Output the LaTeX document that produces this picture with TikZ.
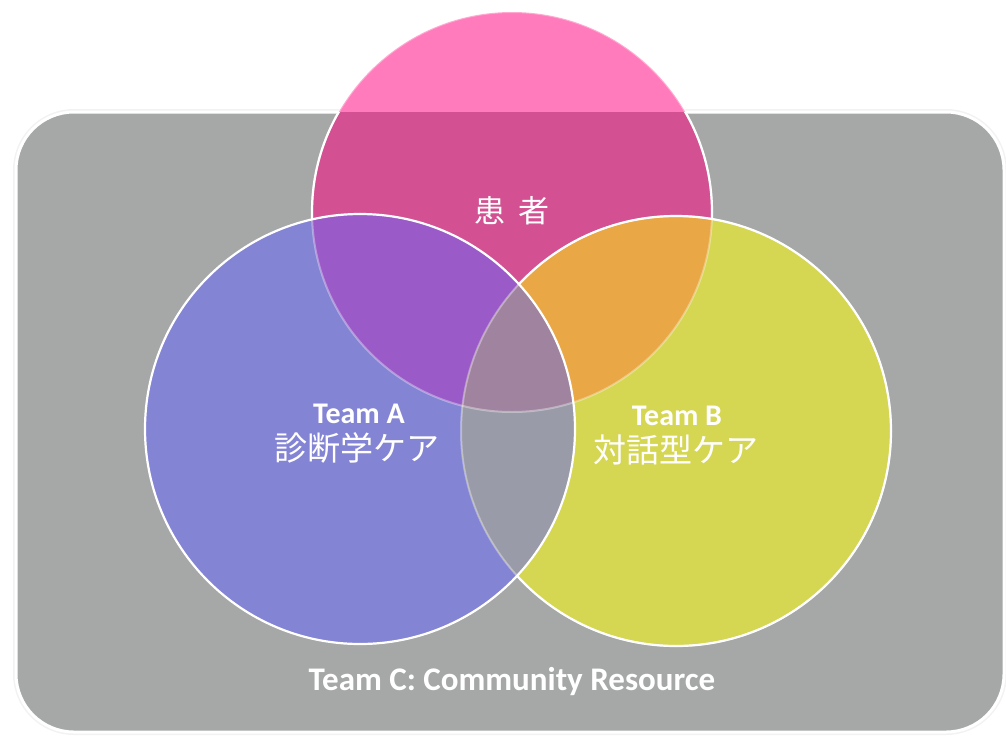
\documentclass[tikz,border=0pt]{standalone}
\usepackage{fontspec}
\setmainfont{Carlito}
\newfontfamily\jpfont{Noto Sans CJK JP}
\definecolor{panel}{HTML}{A5A8A7}
\definecolor{pinkout}{HTML}{FF7BBB}
\definecolor{pinkin}{HTML}{D35192}
\definecolor{bluec}{HTML}{8484D5}
\definecolor{yellowc}{HTML}{D5D652}
\definecolor{purplec}{HTML}{9A5BC8}
\definecolor{orangec}{HTML}{E9A845}
\definecolor{lensc}{HTML}{9A9BA8}
\definecolor{centerc}{HTML}{A0849F}
\tikzset{
  label/.style={text=white, align=center, inner sep=0pt},
  rim/.style={draw=white, line width=2.2pt},
  faintrim/.style={draw=white, draw opacity=0.35, line width=2pt},
}
\newcommand{\pinkpath}{(512,212) circle[radius=200pt]}
\newcommand{\bluepath}{(360,429) circle[radius=215pt]}
\newcommand{\yellowpath}{(676,431) circle[radius=215pt]}
\newcommand{\panelpath}{(16,112) rectangle (1004,732)}
\begin{document}
\begin{tikzpicture}[x=1pt,y=-1pt]
\useasboundingbox (0,0) rectangle (1006,737);
% panel with soft shadow and white border
\draw[black!5, line width=6pt, rounded corners=58pt] \panelpath;
\fill[panel, draw=white, line width=3pt, rounded corners=58pt] \panelpath;
% single-circle regions
\fill[pinkout] \pinkpath;
\begin{scope}
  \clip[rounded corners=58pt] \panelpath;
  \fill[pinkin] \pinkpath;
\end{scope}
\fill[bluec] \bluepath;
\fill[yellowc] \yellowpath;
% overlaps
\begin{scope}\clip \pinkpath; \fill[purplec] \bluepath; \end{scope}
\begin{scope}\clip \pinkpath; \fill[orangec] \yellowpath; \end{scope}
\begin{scope}\clip \bluepath; \fill[lensc] \yellowpath; \end{scope}
\begin{scope}\clip \pinkpath; \clip \bluepath; \fill[centerc] \yellowpath; \end{scope}
% outlines: faint where covered by a later circle
\path[faintrim] \pinkpath;
\path[faintrim] \yellowpath;
\begin{scope}[even odd rule]
  \clip (0,0) rectangle (1006,737) \bluepath;
  \clip (0,0) rectangle (1006,737) \yellowpath;
  \clip[rounded corners=58pt] \panelpath;
  \path[rim] \pinkpath;
\end{scope}
\begin{scope}[even odd rule]
  \clip (0,0) rectangle (1006,737) \bluepath;
  \path[rim] \yellowpath;
\end{scope}
\path[rim] \bluepath;
% labels
\node[label, font=\jpfont\fontsize{31}{34}\selectfont] (patient) at (512,211) {患\hspace{0.42em}者};
\node[label, font=\bfseries\fontsize{30}{32}\selectfont, anchor=base] (teamA) at (359,423) {Team A};
\node[label, font=\jpfont\fontsize{33}{36}\selectfont] (careA) at (357,448) {診断学ケア};
\node[label, font=\bfseries\fontsize{30}{32}\selectfont, anchor=base] (teamB) at (677,425) {Team B};
\node[label, font=\jpfont\fontsize{33}{36}\selectfont] (careB) at (676,450) {対話型ケア};
\node[label, font=\bfseries\fontsize{33}{35}\selectfont, anchor=base] (teamC) at (512,690) {Team C: Community Resource};
\end{tikzpicture}
\end{document}
